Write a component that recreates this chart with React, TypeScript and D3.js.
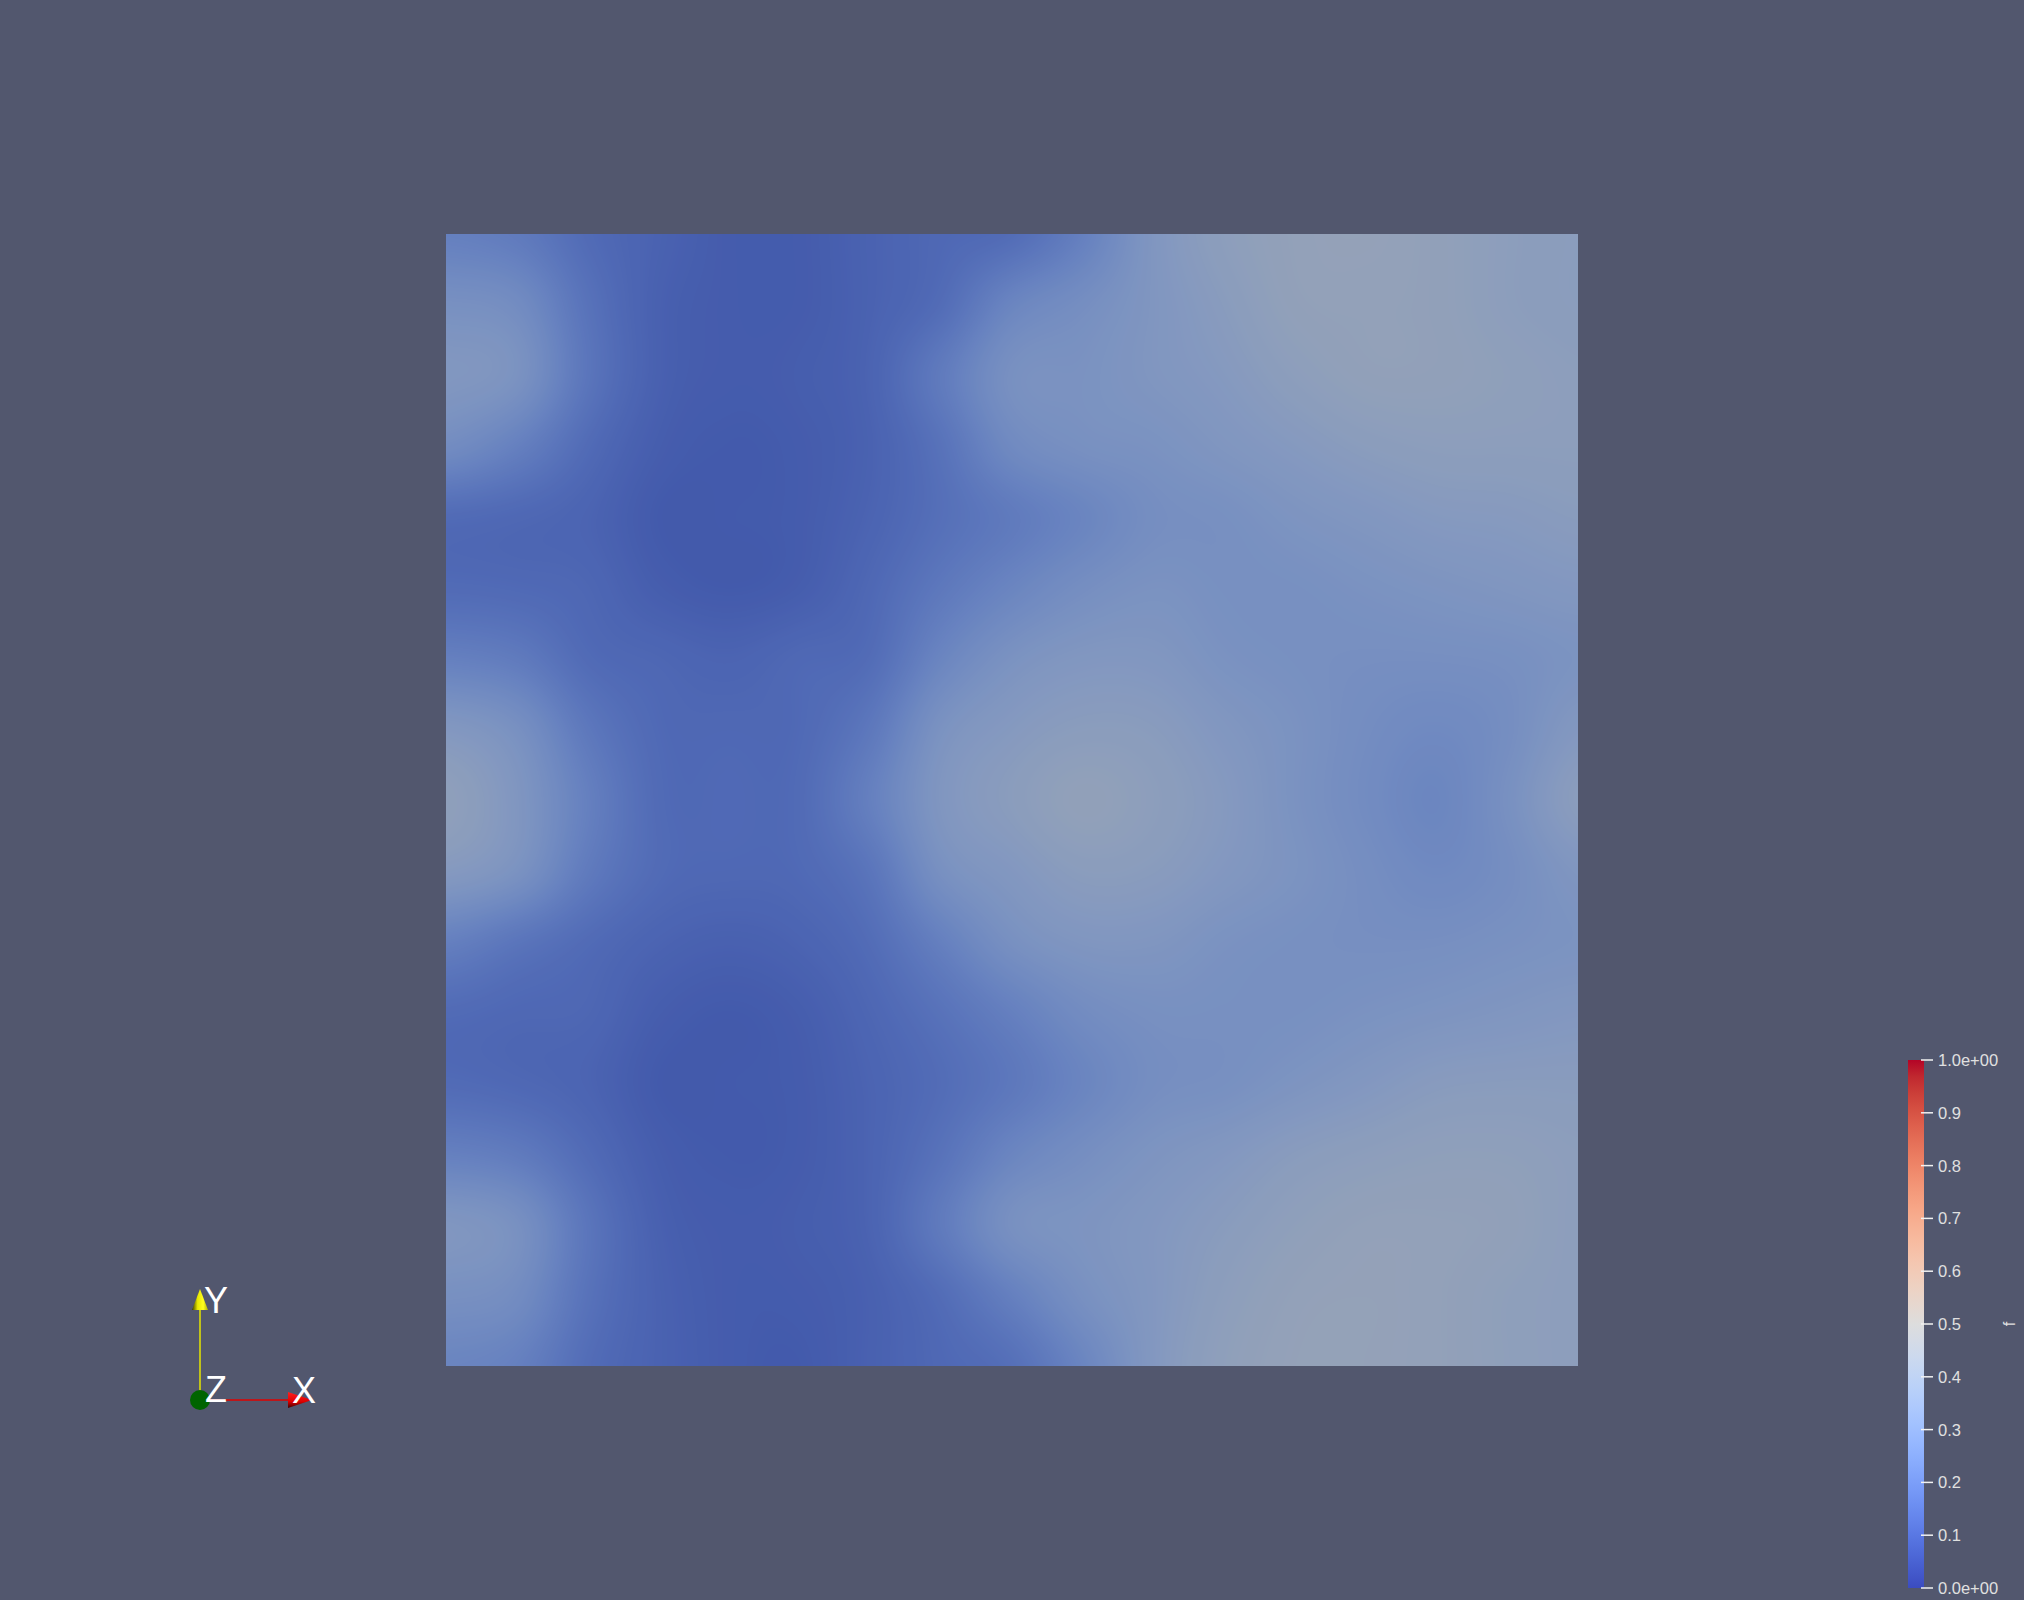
import React, { useEffect, useState } from 'react';
import * as d3 from 'd3';

// ---------- data ----------
// sample positions of the scalar field f (fraction of the square, left->right / top->bottom)
const GRID_U = [0, 0.0625, 0.125, 0.1875, 0.25, 0.3125, 0.375, 0.4375, 0.5, 0.5625, 0.625, 0.6875, 0.75, 0.8125, 0.875, 0.9375, 1];
const GRID_V = [0, 0.0625, 0.125, 0.1875, 0.25, 0.3125, 0.375, 0.4375, 0.5, 0.5625, 0.625, 0.6875, 0.75, 0.8125, 0.875, 0.9375, 1];

// values of f, one row per GRID_V entry (top row first)
const F_ROW_00 = [0.23, 0.21, 0.155, 0.125, 0.105, 0.105, 0.125, 0.145, 0.16, 0.23, 0.33, 0.38, 0.405, 0.41, 0.40, 0.38, 0.37];
const F_ROW_01 = [0.30, 0.28, 0.18, 0.12, 0.105, 0.105, 0.125, 0.16, 0.25, 0.29, 0.33, 0.365, 0.40, 0.405, 0.40, 0.38, 0.37];
const F_ROW_02 = [0.335, 0.31, 0.19, 0.12, 0.105, 0.11, 0.13, 0.21, 0.30, 0.31, 0.33, 0.35, 0.38, 0.40, 0.40, 0.39, 0.38];
const F_ROW_03 = [0.28, 0.23, 0.155, 0.11, 0.10, 0.105, 0.125, 0.18, 0.27, 0.30, 0.31, 0.33, 0.35, 0.37, 0.38, 0.38, 0.38];
const F_ROW_04 = [0.155, 0.145, 0.13, 0.10, 0.10, 0.105, 0.13, 0.17, 0.21, 0.25, 0.29, 0.30, 0.32, 0.335, 0.35, 0.355, 0.365];
const F_ROW_05 = [0.155, 0.15, 0.14, 0.11, 0.10, 0.11, 0.145, 0.20, 0.25, 0.29, 0.31, 0.30, 0.30, 0.31, 0.32, 0.33, 0.34];
const F_ROW_06 = [0.23, 0.21, 0.155, 0.14, 0.13, 0.145, 0.16, 0.25, 0.31, 0.335, 0.335, 0.31, 0.30, 0.295, 0.295, 0.30, 0.315];
const F_ROW_07 = [0.34, 0.30, 0.20, 0.15, 0.145, 0.15, 0.20, 0.31, 0.35, 0.37, 0.365, 0.335, 0.31, 0.285, 0.27, 0.29, 0.34];
const F_ROW_08 = [0.39, 0.33, 0.23, 0.155, 0.15, 0.155, 0.23, 0.33, 0.37, 0.40, 0.38, 0.35, 0.31, 0.28, 0.255, 0.30, 0.37];
const F_ROW_09 = [0.35, 0.31, 0.21, 0.155, 0.145, 0.15, 0.19, 0.30, 0.34, 0.37, 0.365, 0.34, 0.315, 0.29, 0.27, 0.29, 0.33];
const F_ROW_10 = [0.23, 0.19, 0.155, 0.13, 0.12, 0.13, 0.16, 0.23, 0.30, 0.33, 0.33, 0.31, 0.30, 0.295, 0.295, 0.305, 0.315];
const F_ROW_11 = [0.155, 0.145, 0.14, 0.11, 0.10, 0.11, 0.14, 0.18, 0.23, 0.28, 0.30, 0.30, 0.30, 0.31, 0.32, 0.33, 0.34];
const F_ROW_12 = [0.155, 0.145, 0.13, 0.10, 0.10, 0.105, 0.13, 0.16, 0.20, 0.25, 0.29, 0.30, 0.32, 0.34, 0.36, 0.365, 0.365];
const F_ROW_13 = [0.23, 0.21, 0.155, 0.11, 0.10, 0.105, 0.13, 0.18, 0.25, 0.29, 0.32, 0.34, 0.365, 0.38, 0.39, 0.39, 0.38];
const F_ROW_14 = [0.33, 0.30, 0.19, 0.12, 0.105, 0.11, 0.13, 0.21, 0.30, 0.32, 0.34, 0.365, 0.39, 0.405, 0.405, 0.40, 0.38];
const F_ROW_15 = [0.30, 0.28, 0.18, 0.125, 0.105, 0.105, 0.12, 0.16, 0.23, 0.30, 0.34, 0.38, 0.405, 0.41, 0.405, 0.39, 0.38];
const F_ROW_16 = [0.25, 0.23, 0.16, 0.125, 0.105, 0.10, 0.12, 0.145, 0.17, 0.25, 0.34, 0.39, 0.41, 0.41, 0.405, 0.39, 0.38];

const FIELD_F = [F_ROW_00, F_ROW_01, F_ROW_02, F_ROW_03, F_ROW_04, F_ROW_05, F_ROW_06, F_ROW_07, F_ROW_08,
  F_ROW_09, F_ROW_10, F_ROW_11, F_ROW_12, F_ROW_13, F_ROW_14, F_ROW_15, F_ROW_16];

// "Cool to Warm" colour map
const CMAP_POS = [0, 0.03125, 0.0625, 0.09375, 0.125, 0.15625, 0.1875, 0.21875, 0.25, 0.28125, 0.3125, 0.34375, 0.375, 0.40625, 0.4375, 0.46875, 0.5,
  0.53125, 0.5625, 0.59375, 0.625, 0.65625, 0.6875, 0.71875, 0.75, 0.78125, 0.8125, 0.84375, 0.875, 0.90625, 0.9375, 0.96875, 1];
const CMAP_COLORS = ['rgb(59,76,192)', 'rgb(68,90,204)', 'rgb(77,104,215)', 'rgb(87,117,225)', 'rgb(98,130,234)', 'rgb(108,142,241)',
  'rgb(119,154,247)', 'rgb(130,165,251)', 'rgb(141,176,254)', 'rgb(152,185,255)', 'rgb(163,194,255)', 'rgb(174,201,253)',
  'rgb(184,208,249)', 'rgb(194,213,244)', 'rgb(204,217,238)', 'rgb(213,219,230)', 'rgb(221,221,221)', 'rgb(229,216,209)',
  'rgb(236,211,197)', 'rgb(241,204,185)', 'rgb(245,196,173)', 'rgb(247,187,160)', 'rgb(247,177,148)', 'rgb(247,166,135)',
  'rgb(244,154,123)', 'rgb(241,141,111)', 'rgb(236,127,99)', 'rgb(229,112,88)', 'rgb(222,96,77)', 'rgb(213,80,66)',
  'rgb(203,62,56)', 'rgb(192,40,47)', 'rgb(180,4,38)'];

const LEGEND_TICKS = [0, 0.1, 0.2, 0.3, 0.4, 0.5, 0.6, 0.7, 0.8, 0.9, 1];
const LEGEND_LABELS = ['0.0e+00', '0.1', '0.2', '0.3', '0.4', '0.5', '0.6', '0.7', '0.8', '0.9', '1.0e+00'];
const LEGEND_TITLE = 'f';
const AXIS_NAMES = ['X', 'Y', 'Z'];

// ---------- layout ----------
const W = 2024;
const H = 1600;
const BG = '#52576e';
const SQ = { x0: 446, x1: 1578, y0: 234, y1: 1366 };
const SHADE = 0.757; // diffuse lighting on the surface
const BAR = { x: 1908, w: 16, top: 1060, bottom: 1588 };
const FONT = '"Liberation Sans", Arial, sans-serif';

const colorScale = d3.scaleLinear<string>().domain(CMAP_POS).range(CMAP_COLORS).interpolate(d3.interpolateRgb).clamp(true);

function catmull(p0: number, p1: number, p2: number, p3: number, t: number) {
  return 0.5 * ((2 * p1) + (-p0 + p2) * t + (2 * p0 - 5 * p1 + 4 * p2 - p3) * t * t + (-p0 + 3 * p1 - 3 * p2 + p3) * t * t * t);
}

function useFieldImage(w: number, h: number) {
  const [url, setUrl] = useState<string>('');
  useEffect(() => {
    const canvas = document.createElement('canvas');
    canvas.width = w;
    canvas.height = h;
    const ctx = canvas.getContext('2d')!;
    const img = ctx.createImageData(w, h);
    const nU = GRID_U.length, nV = GRID_V.length;
    const uIdx = d3.scaleLinear().domain(GRID_U).range(d3.range(nU)).clamp(true);
    const vIdx = d3.scaleLinear().domain(GRID_V).range(d3.range(nV)).clamp(true);
    const N = 1024;
    const lut = new Uint8ClampedArray(N * 3);
    for (let i = 0; i < N; i++) {
      const c = d3.rgb(colorScale(i / (N - 1)));
      lut[i * 3] = c.r * SHADE;
      lut[i * 3 + 1] = c.g * SHADE;
      lut[i * 3 + 2] = c.b * SHADE;
    }
    const at = (r: number, c: number) => FIELD_F[Math.max(0, Math.min(nV - 1, r))][Math.max(0, Math.min(nU - 1, c))];
    const colPos = new Float64Array(w);
    for (let px = 0; px < w; px++) colPos[px] = uIdx((px + 0.5) / w);
    const tmp = [0, 0, 0, 0];
    for (let py = 0; py < h; py++) {
      const gv = vIdx((py + 0.5) / h);
      const r = Math.min(Math.floor(gv), nV - 2);
      const tv = gv - r;
      for (let px = 0; px < w; px++) {
        const gu = colPos[px];
        const c = Math.min(Math.floor(gu), nU - 2);
        const tu = gu - c;
        for (let k = 0; k < 4; k++) {
          const rr = r - 1 + k;
          tmp[k] = catmull(at(rr, c - 1), at(rr, c), at(rr, c + 1), at(rr, c + 2), tu);
        }
        const val = catmull(tmp[0], tmp[1], tmp[2], tmp[3], tv);
        const li = Math.max(0, Math.min(N - 1, Math.round(val * (N - 1))));
        const o = (py * w + px) * 4;
        img.data[o] = lut[li * 3];
        img.data[o + 1] = lut[li * 3 + 1];
        img.data[o + 2] = lut[li * 3 + 2];
        img.data[o + 3] = 255;
      }
    }
    ctx.putImageData(img, 0, 0);
    setUrl(canvas.toDataURL('image/png'));
  }, [w, h]);
  return url;
}

export default function App() {
  const sqW = SQ.x1 - SQ.x0;
  const sqH = SQ.y1 - SQ.y0;
  const url = useFieldImage(sqW, sqH);
  const legendY = d3.scaleLinear().domain([0, 1]).range([BAR.bottom, BAR.top]);

  return (
    <svg width={W} height={H} style={{ position: 'absolute', left: 0, top: 0, display: 'block', background: BG }}>
      <rect x={0} y={0} width={W} height={H} fill={BG} />
      <defs>
        <linearGradient id="cmap" x1="0" y1="1" x2="0" y2="0">
          {CMAP_POS.map((p, i) => (
            <stop key={i} offset={p} stopColor={CMAP_COLORS[i]} />
          ))}
        </linearGradient>
        <linearGradient id="coneY" x1="0" y1="0" x2="1" y2="0">
          <stop offset="0" stopColor="#3a3a00" />
          <stop offset="0.35" stopColor="#e8e800" />
          <stop offset="0.7" stopColor="#ffff20" />
          <stop offset="1" stopColor="#b0b000" />
        </linearGradient>
        <linearGradient id="coneX" x1="0" y1="0" x2="0" y2="1">
          <stop offset="0" stopColor="#ff2020" />
          <stop offset="0.6" stopColor="#e00000" />
          <stop offset="1" stopColor="#400000" />
        </linearGradient>
      </defs>

      {/* scalar field surface */}
      {url && <image href={url} x={SQ.x0} y={SQ.y0} width={sqW} height={sqH} preserveAspectRatio="none" />}

      {/* colour legend */}
      <rect x={BAR.x} y={BAR.top} width={BAR.w} height={BAR.bottom - BAR.top} fill="url(#cmap)" />
      {LEGEND_TICKS.map((t, i) => (
        <g key={i}>
          <line x1={1921} x2={1933} y1={legendY(t)} y2={legendY(t)} stroke="#f2f2f2" strokeWidth={1.5} />
          <text x={1938} y={legendY(t)} dy="0.36em" fill="#e0e0e0" fontFamily={FONT} fontSize={16.5}>
            {LEGEND_LABELS[i]}
          </text>
        </g>
      ))}
      <text x={0} y={0} transform={`translate(2009,${(BAR.top + BAR.bottom) / 2}) rotate(-90)`} textAnchor="middle" dy="0.36em"
        fill="#e0e0e0" fontFamily={FONT} fontSize={16}>
        {LEGEND_TITLE}
      </text>

      {/* orientation axes */}
      <line x1={200} y1={1400} x2={200} y2={1310} stroke="#e6e600" strokeWidth={1.5} />
      <line x1={200} y1={1400} x2={289} y2={1400} stroke="#e00000" strokeWidth={1.5} />
      <polygon points="192,1310 208,1310 200,1289" fill="url(#coneY)" />
      <polygon points="288,1392 288,1408 312,1400" fill="url(#coneX)" />
      <circle cx={200} cy={1400} r={10} fill="#006400" />
      <text x={204} y={1313} fill="#ffffff" fontFamily={FONT} fontSize={36}>{AXIS_NAMES[1]}</text>
      <text x={205} y={1402} fill="#ffffff" fontFamily={FONT} fontSize={36}>{AXIS_NAMES[2]}</text>
      <text x={292} y={1403} fill="#ffffff" fontFamily={FONT} fontSize={36}>{AXIS_NAMES[0]}</text>
    </svg>
  );
}
